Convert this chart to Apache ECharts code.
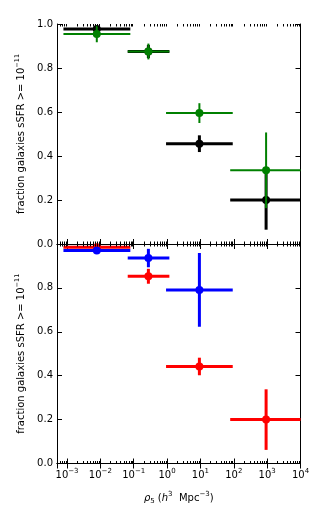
<!DOCTYPE html>
<html><head><meta charset="utf-8">
<script src="https://cdn.jsdelivr.net/npm/echarts@6/dist/echarts.min.js"></script>
<style>html,body{margin:0;padding:0;background:#fff}#c{width:316px;height:510px}</style>
</head><body><div id="c"></div>
<script>
// ---- data ----
const binCenter = [0.0078, 0.275, 9.3, 930];
const binLow    = [0.00078, 0.066, 0.93, 78];
const binHigh   = [0.079, 1.17, 93, 10000];
const blackY   = [0.977, 0.875, 0.456, 0.200];
const blackErr = [0.015, 0.030, 0.038, 0.135];
const greenY   = [0.955, 0.875, 0.595, 0.335];
const greenErr = [0.038, 0.036, 0.045, 0.172];
const redY     = [0.985, 0.853, 0.442, 0.200];
const redErr   = [0.010, 0.034, 0.040, 0.138];
const blueY    = [0.970, 0.936, 0.791];
const blueErr  = [0.015, 0.042, 0.168];
const yTicks = [0, 0.2, 0.4, 0.6, 0.8, 1.0];
const xMin = 0.0005, xMax = 10000;
// minor tick positions of the log axis (2..9 x 10^k)
const minorTickVals = [];
for (let k = -4; k <= 3; k++) for (let m = 2; m <= 9; m++) {
  const v = m * Math.pow(10, k);
  if (v > xMin && v < xMax) minorTickVals.push(v);
}

const FONT = 'DejaVu Sans';
function rows(ys, errs) {
  return ys.map((y, i) => [binCenter[i], y, binLow[i], binHigh[i], y - errs[i], y + errs[i]]);
}
function errRender(color, lw, r) {
  return function (params, api) {
    const x = api.value(0), y = api.value(1);
    const c = api.coord([x, y]);
    const pl = api.coord([api.value(2), y]), ph = api.coord([api.value(3), y]);
    const pb = api.coord([x, api.value(4)]), pt = api.coord([x, api.value(5)]);
    return { type: 'group', children: [
      { type: 'line', shape: { x1: pl[0], y1: pl[1], x2: ph[0], y2: ph[1] }, style: { stroke: color, lineWidth: lw } },
      { type: 'line', shape: { x1: pb[0], y1: pb[1], x2: pt[0], y2: pt[1] }, style: { stroke: color, lineWidth: lw } },
      { type: 'circle', shape: { cx: c[0], cy: c[1], r: r }, style: { fill: color } }
    ]};
  };
}
function mkSeries(name, ys, errs, color, lw, r, gi) {
  return { type: 'custom', name: name, xAxisIndex: gi * 2, yAxisIndex: gi * 2,
    renderItem: errRender(color, lw, r), data: rows(ys, errs),
    encode: { x: [0, 2, 3], y: [1, 4, 5] }, silent: true, animation: false };
}
function minorSeries(gi) {
  return { type: 'custom', xAxisIndex: gi * 2, yAxisIndex: gi * 2, silent: true, animation: false, z: 10,
    data: minorTickVals.map(v => [v, 0]), encode: { x: 0, y: 1 },
    renderItem: function (params, api) {
      const b = api.coord([api.value(0), 0]), t = api.coord([api.value(0), 1]);
      const x = Math.round(b[0]) + 0.5;
      return { type: 'group', children: [
        { type: 'line', shape: { x1: x, y1: b[1], x2: x, y2: b[1] - 2.5 }, style: { stroke: '#000', lineWidth: 1 } },
        { type: 'line', shape: { x1: x, y1: t[1], x2: x, y2: t[1] + 2.5 }, style: { stroke: '#000', lineWidth: 1 } }
      ]};
    } };
}
const supRich = {
  s: { fontSize: 7, fontFamily: FONT, color: '#000', padding: [0, 0, 8, 0] },
  b: { fontSize: 10, fontFamily: FONT, color: '#000' }
};
function xAxisDef(gi, pos, labels) {
  return {
    type: 'log', logBase: 10, gridIndex: gi, position: pos, min: xMin, max: xMax,
    axisLine: { show: true, lineStyle: { color: '#000', width: 1 } },
    axisTick: { show: true, inside: true, length: 5, lineStyle: { color: '#000', width: 1 } },
    minorTick: { show: false },
    splitLine: { show: false }, minorSplitLine: { show: false },
    axisLabel: { show: labels, showMinLabel: false, showMaxLabel: true, margin: 4,
      formatter: function (v) {
        const e = Math.round(Math.log10(v));
        return '{b|10}{s|' + String(e).replace('-', '\u2212') + '}';
      }, rich: supRich },
    name: labels ? '{i|\u03c1}{sub|5} ({i|h}{s|3}  Mpc{s|\u22123})' : '',
    nameLocation: 'middle', nameGap: 27,
    nameTextStyle: { fontFamily: FONT, fontSize: 10, color: '#000', rich: {
      i: { fontFamily: FONT, fontStyle: 'italic', fontSize: 10, color: '#000' },
      sub: { fontFamily: FONT, fontSize: 7, color: '#000', padding: [6, 0, 0, 0] },
      s: { fontFamily: FONT, fontSize: 7, color: '#000', padding: [0, 0, 8, 0] } } }
  };
}
function yAxisDef(gi, pos, labels, hideMax) {
  return {
    type: 'value', gridIndex: gi, position: pos, min: 0, max: 1, interval: 0.2,
    axisLine: { show: true, lineStyle: { color: '#000', width: 1 } },
    axisTick: { show: true, inside: true, length: 5, lineStyle: { color: '#000', width: 1 } },
    splitLine: { show: false },
    axisLabel: { show: labels, showMaxLabel: !hideMax, margin: 4, color: '#000', fontFamily: FONT, fontSize: 10,
      formatter: v => v.toFixed(1) },
    name: labels ? '{b|fraction galaxies sSFR >= 10}{s|\u221211}' : '',
    nameLocation: 'middle', nameGap: 28, nameRotate: 90,
    nameTextStyle: { fontFamily: FONT, fontSize: 10, color: '#000', rich: {
      b: { fontFamily: FONT, fontSize: 10, color: '#000' },
      s: { fontFamily: FONT, fontSize: 6.5, color: '#000', padding: [0, 0, 8, 0] } } }
  };
}
const chart = echarts.init(document.getElementById('c'), null, { renderer: 'canvas' });
chart.setOption({
  animation: false,
  backgroundColor: '#fff',
  grid: [
    { left: 57, right: 15.5, top: 24, height: 220, outerBoundsMode: 'none', containLabel: false },
    { left: 57, right: 15.5, top: 244, height: 219.5, outerBoundsMode: 'none', containLabel: false }
  ],
  xAxis: [xAxisDef(0, 'bottom', false), xAxisDef(0, 'top', false), xAxisDef(1, 'bottom', true), xAxisDef(1, 'top', false)],
  yAxis: [yAxisDef(0, 'left', true, false), yAxisDef(0, 'right', false, false), yAxisDef(1, 'left', true, true), yAxisDef(1, 'right', false, false)],
  series: [
    minorSeries(0), minorSeries(1),
    mkSeries('black', blackY, blackErr, '#000000', 3, 4, 0),
    mkSeries('green', greenY, greenErr, '#008000', 2, 4, 0),
    mkSeries('red', redY, redErr, '#ff0000', 3, 4, 1),
    mkSeries('blue', blueY, blueErr, '#0000ff', 3, 4, 1)
  ]
});
</script></body></html>
